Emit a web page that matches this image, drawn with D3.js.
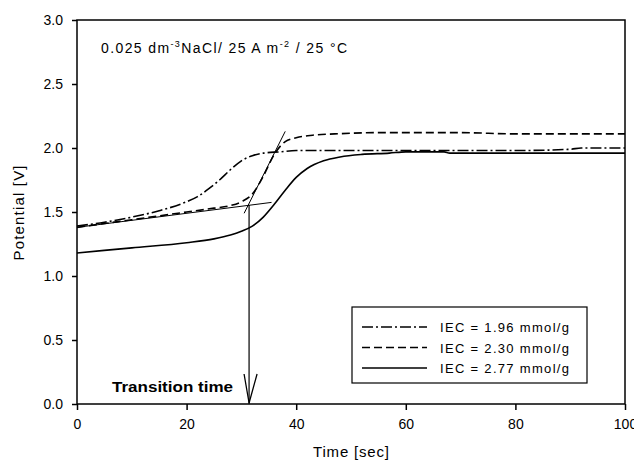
<!DOCTYPE html>
<html>
<head>
<meta charset="utf-8">
<script src="https://cdn.jsdelivr.net/npm/d3@7.9.0/dist/d3.min.js"></script>
<style>
  body { margin: 0; background: #fff; }
  text { font-family: "Liberation Sans", Arial, sans-serif; fill: #000; }
</style>
</head>
<body>
<svg id="chart" width="634" height="465"></svg>
<script>
// time [sec] and potential [V]
const iec196 = [[0,1.39],[5,1.42],[10,1.46],[15,1.51],[20,1.58],[22,1.62],[24,1.68],[26,1.75],[28,1.83],[30,1.9],[32,1.94],[34,1.96],[37,1.97],[40,1.98],[50,1.98],[60,1.98],[70,1.98],[80,1.98],[90,1.99],[92,2.0],[100,2.0]];
const iec230 = [[0,1.38],[5,1.41],[10,1.44],[15,1.47],[20,1.5],[25,1.53],[28,1.55],[30,1.58],[32,1.64],[34,1.78],[36,1.95],[38,2.05],[40,2.08],[43,2.1],[47,2.11],[55,2.12],[70,2.12],[80,2.11],[100,2.11]];
const iec277 = [[0,1.18],[10,1.22],[20,1.26],[25,1.29],[28,1.32],[30,1.35],[32,1.39],[34,1.46],[36,1.56],[38,1.67],[40,1.77],[42,1.84],[45,1.9],[48,1.93],[52,1.95],[57,1.96],[60,1.97],[67,1.97],[68,1.96],[100,1.96]];

const tangentBase = [[0,1.38],[35.5,1.575]];
const tangentSteep = [[30.5,1.49],[38,2.13]];
const transitionT = 31.4;
const transitionV = 1.555;

const seriesLabels = ["IEC = 1.96 mmol/g", "IEC = 2.30 mmol/g", "IEC = 2.77 mmol/g"];
const xTicks = [0, 20, 40, 60, 80, 100];
const yTicks = [0, 0.5, 1.0, 1.5, 2.0, 2.5, 3.0];

const svg = d3.select("#chart");
const m = { left: 77, right: 625, top: 20, bottom: 404 };

const x = d3.scaleLinear().domain([0, 100]).range([m.left, m.right]);
const y = d3.scaleLinear().domain([0, 3]).range([m.bottom, m.top]);

// frame
svg.append("rect")
  .attr("x", m.left).attr("y", m.top)
  .attr("width", m.right - m.left).attr("height", m.bottom - m.top)
  .attr("fill", "none").attr("stroke", "#000").attr("stroke-width", 1.5);

// axes
const xAxis = svg.append("g").attr("transform", `translate(0,${m.bottom})`)
  .call(d3.axisBottom(x).tickValues(xTicks).tickSize(6).tickPadding(9).tickFormat(d3.format("d")));
const yAxis = svg.append("g").attr("transform", `translate(${m.left},0)`)
  .call(d3.axisLeft(y).tickValues(yTicks).tickSize(5).tickPadding(9).tickFormat(d3.format(".1f")));
[xAxis, yAxis].forEach(g => {
  g.select(".domain").remove();
  g.selectAll("line").attr("stroke", "#000").attr("stroke-width", 1.5);
  g.selectAll("text").attr("font-size", 14).attr("font-family", "Liberation Sans, Arial, sans-serif");
});

svg.append("text").attr("x", 351).attr("y", 457).attr("text-anchor", "middle")
  .attr("font-size", 15).attr("textLength", 76).attr("lengthAdjust", "spacing")
  .text("Time [sec]");
svg.append("text").attr("transform", "translate(24,213) rotate(-90)")
  .attr("text-anchor", "middle").attr("font-size", 15)
  .attr("textLength", 95).attr("lengthAdjust", "spacing")
  .text("Potential [V]");

// conditions note
const note = svg.append("text").attr("x", 101).attr("y", 53).attr("font-size", 14)
  .attr("textLength", 246).attr("lengthAdjust", "spacing");
note.append("tspan").text("0.025 dm");
note.append("tspan").attr("font-size", 9).attr("dy", -6).text("-3");
note.append("tspan").attr("dy", 6).text("NaCl/ 25 A m");
note.append("tspan").attr("font-size", 9).attr("dy", -6).text("-2");
note.append("tspan").attr("dy", 6).text(" / 25 °C");

const line = d3.line().x(d => x(d[0])).y(d => y(d[1])).curve(d3.curveMonotoneX);
const straight = d3.line().x(d => x(d[0])).y(d => y(d[1]));

const dashes = ["11,3,2,3", "8,4", null];
const data = [iec196, iec230, iec277];

const plot = svg.append("g");
plot.append("path").attr("d", straight(tangentBase)).attr("fill", "none").attr("stroke", "#000").attr("stroke-width", 1);
plot.append("path").attr("d", straight(tangentSteep)).attr("fill", "none").attr("stroke", "#000").attr("stroke-width", 1);

data.forEach((s, i) => {
  plot.append("path").attr("d", line(s))
    .attr("fill", "none").attr("stroke", "#000").attr("stroke-width", 1.6)
    .attr("stroke-dasharray", dashes[i]);
});

// transition time arrow
plot.append("line")
  .attr("x1", x(transitionT)).attr("x2", x(transitionT))
  .attr("y1", y(transitionV)).attr("y2", y(0))
  .attr("stroke", "#000").attr("stroke-width", 1.2);
plot.append("path")
  .attr("d", `M${x(transitionT) - 5},${y(0) - 30} L${x(transitionT)},${y(0) - 1} L${x(transitionT) + 8},${y(0) - 30}`)
  .attr("fill", "none").attr("stroke", "#000").attr("stroke-width", 1.3);
svg.append("text").attr("x", 233).attr("y", 392).attr("text-anchor", "end")
  .attr("font-size", 14).attr("font-weight", "bold")
  .attr("textLength", 121).attr("lengthAdjust", "spacingAndGlyphs")
  .text("Transition time");

// legend
const lg = svg.append("g");
lg.append("rect").attr("x", 352).attr("y", 307).attr("width", 235).attr("height", 76)
  .attr("fill", "#fff").attr("stroke", "#000").attr("stroke-width", 1.2);
seriesLabels.forEach((lab, i) => {
  const ly = 327 + i * 20.5;
  lg.append("line").attr("x1", 362).attr("x2", 427).attr("y1", ly).attr("y2", ly)
    .attr("stroke", "#000").attr("stroke-width", 1.3).attr("stroke-dasharray", dashes[i]);
  lg.append("text").attr("x", 440).attr("y", ly + 5).attr("font-size", 13)
    .attr("textLength", 129).attr("lengthAdjust", "spacing").text(lab);
});
</script>
</body>
</html>
